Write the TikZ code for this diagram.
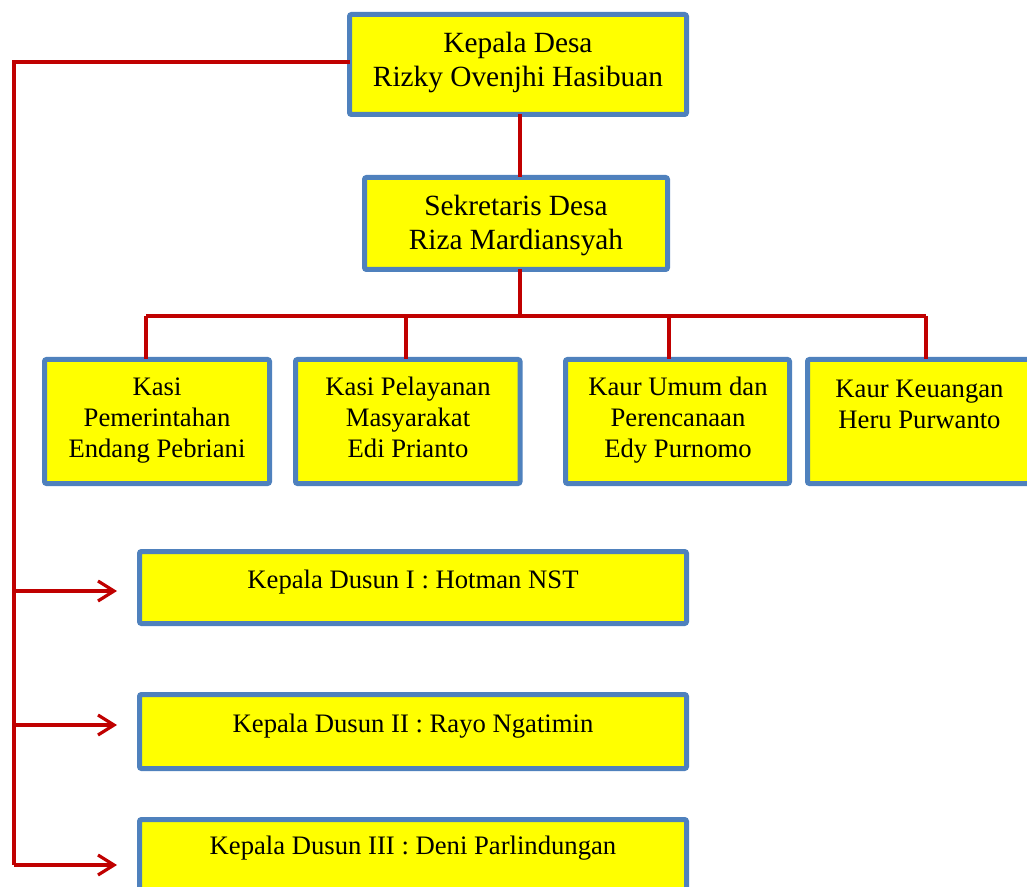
\documentclass[tikz,border=0pt]{standalone}
\usepackage{fontspec}
\setmainfont{Liberation Serif}
\usetikzlibrary{arrows.meta,fit}
\definecolor{boxblue}{HTML}{4F81BD}
\definecolor{linered}{HTML}{C00000}
\definecolor{boxyellow}{HTML}{FFFF00}
\tikzset{
  orgbox/.style={draw=boxblue, fill=boxyellow, line width=3.75pt, rounded corners=1.5pt, inner sep=0pt, outer sep=0pt},
  bigtext/.style={font=\fontsize{22pt}{25.5pt}\selectfont, align=center, inner sep=0pt,
    execute at begin node=\strut, execute at end node=\strut},
  smalltext/.style={font=\fontsize{20pt}{23.25pt}\selectfont, align=center, inner sep=0pt,
    execute at begin node=\strut, execute at end node=\strut},
  redline/.style={draw=linered, line width=2.4pt},
  redarrow/.style={redline, -{Straight Barb[length=12pt,width=15pt,line width=2.4pt]}}
}
\begin{document}
\begin{tikzpicture}[x=0.75pt,y=-0.75pt]
\useasboundingbox (0,0) rectangle (1027,887);
% boxes
\node[orgbox, fit={(349.5,14.5) (686.5,114.5)}] (kd) {};
\node[orgbox, fit={(364.5,177.5) (667.5,269.5)}] (sd) {};
\node[orgbox, fit={(44.5,359.5) (269.5,483.5)}] (r1) {};
\node[orgbox, fit={(295.5,359.5) (520,483.5)}] (r2) {};
\node[orgbox, fit={(565.5,359.5) (789.5,483.5)}] (r3) {};
\node[orgbox, fit={(807.5,359.5) (1031.5,483.5)}] (r4) {};
\node[orgbox, fit={(139.5,551.5) (686.5,623.5)}] (d1) {};
\node[orgbox, fit={(139.5,694.5) (686.5,768.5)}] (d2) {};
\node[orgbox, fit={(139.5,819.5) (686.5,893.5)}] (d3) {};
% texts
\node[bigtext] (kdt) at (518,64) {Kepala Desa\\Rizky Ovenjhi Hasibuan};
\node[bigtext] (sdt) at (516,227) {Sekretaris Desa\\Riza Mardiansyah};
\node[smalltext] (r1t) at (157,422) {Kasi\\Pemerintahan\\Endang Pebriani};
\node[smalltext] (r2t) at (408,422) {Kasi Pelayanan\\Masyarakat\\Edi Prianto};
\node[smalltext] (r3t) at (678,422) {Kaur Umum dan\\Perencanaan\\Edy Purnomo};
\node[smalltext] (r4t) at (919.5,409) {Kaur Keuangan\\Heru Purwanto};
\node[smalltext] (d1t) at (413,582) {Kepala Dusun I : Hotman NST};
\node[smalltext] (d2t) at (413,726) {Kepala Dusun II : Rayo Ngatimin};
\node[smalltext] (d3t) at (413,848) {Kepala Dusun III : Deni Parlindungan};
% tree connectors
\coordinate (bus) at (520,316);
\draw[redline] (kd.south -| bus) -- (sd.north -| bus);
\draw[redline] (sd.south -| bus) -- (bus);
\coordinate (b1) at (146,316);
\coordinate (b2) at (406,316);
\coordinate (b3) at (669,316);
\coordinate (b4) at (926,316);
\draw[redline] (b1) -- (b4);
\draw[redline] (b1) -- (b1 |- r1.north);
\draw[redline] (b2) -- (b2 |- r2.north);
\draw[redline] (b3) -- (b3 |- r3.north);
\draw[redline] (b4) -- (b4 |- r4.north);
% left spine
\coordinate (spinetop) at (14,62);
\coordinate (spinebot) at (14,865);
\draw[redline] (kd.west |- spinetop) -- (spinetop) -- (spinebot);
\coordinate (a1) at (117,591);
\coordinate (a2) at (117,725);
\coordinate (a3) at (117,865);
\draw[redarrow] (spinetop |- a1) -- (a1);
\draw[redarrow] (spinetop |- a2) -- (a2);
\draw[redarrow] (spinetop |- a3) -- (a3);
\end{tikzpicture}
\end{document}
